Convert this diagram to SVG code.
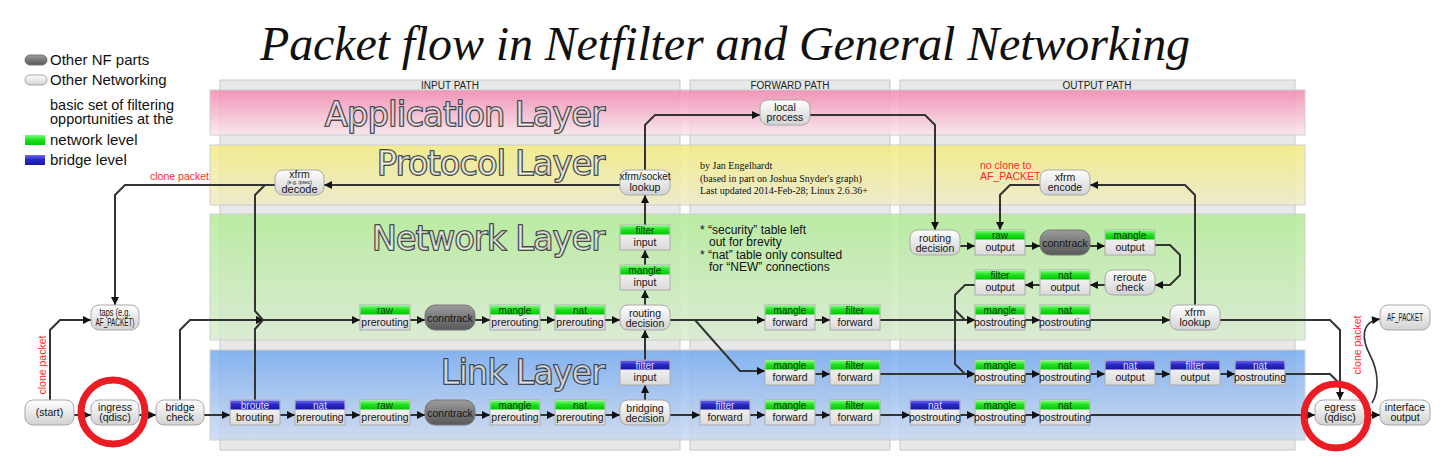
<svg xmlns="http://www.w3.org/2000/svg" width="1450" height="475" viewBox="0 0 1450 475">
<defs>
<linearGradient id="gPill" x1="0" y1="0" x2="0" y2="1"><stop offset="0" stop-color="#ffffff"/><stop offset="1" stop-color="#d2d2d2"/></linearGradient>
<linearGradient id="gDark" x1="0" y1="0" x2="0" y2="1"><stop offset="0" stop-color="#9c9c9c"/><stop offset="1" stop-color="#585858"/></linearGradient>
<linearGradient id="gBody" x1="0" y1="0" x2="0" y2="1"><stop offset="0" stop-color="#fdfdfd"/><stop offset="1" stop-color="#dadada"/></linearGradient>
<linearGradient id="gGreen" x1="0" y1="0" x2="0" y2="1"><stop offset="0" stop-color="#7cff7c"/><stop offset="0.45" stop-color="#22e022"/><stop offset="1" stop-color="#00c800"/></linearGradient>
<linearGradient id="gBlue" x1="0" y1="0" x2="0" y2="1"><stop offset="0" stop-color="#6a6aee"/><stop offset="0.45" stop-color="#2a2ac8"/><stop offset="1" stop-color="#1818a0"/></linearGradient>
<linearGradient id="bApp" x1="0" y1="0" x2="0" y2="1"><stop offset="0" stop-color="#f288b0"/><stop offset="1" stop-color="#fbe6ee"/></linearGradient>
<linearGradient id="bProt" x1="0" y1="0" x2="0" y2="1"><stop offset="0" stop-color="#f4ec80"/><stop offset="1" stop-color="#efecc8"/></linearGradient>
<linearGradient id="bNet" x1="0" y1="0" x2="0" y2="1"><stop offset="0" stop-color="#b4ec98"/><stop offset="1" stop-color="#d8ecd0"/></linearGradient>
<linearGradient id="bLink" x1="0" y1="0" x2="0" y2="1"><stop offset="0" stop-color="#74aaf2"/><stop offset="1" stop-color="#cad9f0"/></linearGradient>
<marker id="arr" viewBox="0 0 10 10" refX="10" refY="5" markerWidth="10" markerHeight="8" markerUnits="userSpaceOnUse" orient="auto"><path d="M0,0 L10,5 L0,10 z" fill="#111"/></marker>
</defs>
<style>
.col{fill:#e8e8e8;stroke:#c8c8c8;stroke-width:1}
.band{opacity:0.85;stroke:#c8c8c8;stroke-width:1}
.pill{fill:url(#gPill);stroke:#a8a8a8;stroke-width:1}
.dark{fill:url(#gDark);stroke:#777;stroke-width:1}
.body{fill:url(#gBody);stroke:#acacac;stroke-width:1}
.hg{fill:url(#gGreen)}
.hb{fill:url(#gBlue)}
.sans{font-family:"Liberation Sans",Arial,sans-serif}
.serif{font-family:"Liberation Serif","Times New Roman",serif}
.t{font-family:"Liberation Sans",Arial,sans-serif;font-size:10.5px;text-anchor:middle;fill:#151515}
.h{font-family:"Liberation Sans",Arial,sans-serif;font-size:10px;text-anchor:middle;fill:#0a3a0a}
.hw{font-family:"Liberation Sans",Arial,sans-serif;font-size:10px;text-anchor:middle;fill:#dcdcff}
.lay{font-family:"DejaVu Sans",sans-serif;font-size:33px}
.lay1{fill:none;stroke:#2a2a2a;stroke-width:1.7}
.lay2{fill:#ffffff;fill-opacity:0.6;stroke:none}
.cp{font-family:"Liberation Sans",Arial,sans-serif;font-size:10.5px;fill:#ff2a2a}
.path{font-family:"Liberation Sans",Arial,sans-serif;font-size:10px;text-anchor:middle;fill:#222}
.leg{font-family:"Liberation Sans",Arial,sans-serif;font-size:15px;fill:#111}
.conn path{fill:none;stroke:#333;stroke-width:2}
.conn .a{marker-end:url(#arr)}
.circ{fill:none;stroke:#ec1c24;stroke-width:7}
</style>
<rect width="1450" height="475" fill="#ffffff"/>

<text class="serif" x="260" y="60" style="font-style:italic;font-size:48px" textLength="930" fill="#111">Packet flow in Netfilter and General Networking</text>

<g id="legend">
<rect x="25" y="55" width="22" height="10" rx="5" class="dark"/>
<text class="leg" x="50" y="65">Other NF parts</text>
<rect x="25" y="75" width="22" height="10" rx="5" class="pill"/>
<text class="leg" x="50" y="85">Other Networking</text>
<text class="leg" x="50" y="110" style="font-size:14.5px">basic set of filtering</text>
<text class="leg" x="50" y="124" style="font-size:14.5px">opportunities at the</text>
<rect x="25" y="135" width="20" height="10" class="hg"/>
<text class="leg" x="50" y="145">network level</text>
<rect x="25" y="155" width="20" height="10" class="hb"/>
<text class="leg" x="50" y="165">bridge level</text>
</g>

<g id="columns">
<rect class="col" x="220" y="80" width="460" height="370"/>
<rect class="col" x="690" y="80" width="200" height="370"/>
<rect class="col" x="900" y="80" width="395" height="370"/>
<text class="path" x="450" y="89">INPUT PATH</text>
<text class="path" x="790" y="89">FORWARD PATH</text>
<text class="path" x="1097" y="89">OUTPUT PATH</text>
</g>

<g id="layers">
<rect class="band" x="210" y="90" width="1095" height="45" fill="url(#bApp)"/>
<rect class="band" x="210" y="145" width="1095" height="60" fill="url(#bProt)"/>
<rect class="band" x="210" y="214" width="1095" height="126" fill="url(#bNet)"/>
<rect class="band" x="210" y="350" width="1095" height="90" fill="url(#bLink)"/>
<text class="lay lay1" x="325" y="126" textLength="280">Application Layer</text>
<text class="lay lay2" x="325" y="126" textLength="280">Application Layer</text>
<text class="lay lay1" x="377" y="175" textLength="228">Protocol Layer</text>
<text class="lay lay2" x="377" y="175" textLength="228">Protocol Layer</text>
<text class="lay lay1" x="372" y="250" textLength="233">Network Layer</text>
<text class="lay lay2" x="372" y="250" textLength="233">Network Layer</text>
<text class="lay lay1" x="441" y="384" textLength="164">Link Layer</text>
<text class="lay lay2" x="441" y="384" textLength="164">Link Layer</text>
</g>

<g id="notes">
<g class="serif" style="font-size:10px" fill="#111">
<text x="700" y="169">by Jan Engelhardt</text>
<text x="700" y="182">(based in part on Joshua Snyder's graph)</text>
<text x="700" y="194">Last updated 2014-Feb-28; Linux 2.6.36+</text>
</g>
<g class="sans" style="font-size:12px" fill="#111">
<text x="700" y="234">* “security” table left</text>
<text x="709" y="246">out for brevity</text>
<text x="700" y="259">* “nat” table only consulted</text>
<text x="709" y="271">for “NEW” connections</text>
</g>
<text class="cp" x="209" y="180" text-anchor="end">clone packet</text>
<text class="cp" transform="translate(46,365) rotate(-90)" text-anchor="middle">clone packet</text>
<text class="cp" transform="translate(1361,345) rotate(-90)" text-anchor="middle">clone packet</text>
<text class="cp" x="980" y="169">no clone to</text>
<text class="cp" x="980" y="180">AF_PACKET</text>
</g>

<g class="conn" id="connectors">
<path class="a" d="M74,415 H91"/>
<path class="a" d="M139,415 H156"/>
<path class="a" d="M50,400 V330 L60,320 H91"/>
<path class="a" d="M204,415 H230"/>
<path class="a" d="M180,400 V330 L190,320 H264"/>
<path d="M275,185 H265 L255,195 V311 L263,320"/>
<path d="M255,400 V329 L263,320"/>
<path class="a" d="M262,320 H360"/>
<path class="a" d="M275,185 H125 L115,195 V305"/>
<path class="a" d="M410,320 H425"/>
<path class="a" d="M475,320 H490"/>
<path class="a" d="M540,320 H555"/>
<path class="a" d="M605,320 H620"/>
<path class="a" d="M645,305 V290"/>
<path class="a" d="M645,265 V250"/>
<path class="a" d="M645,225 V195"/>
<path class="a" d="M645,170 V125 L655,115 H760"/>
<path class="a" d="M620,185 H324"/>
<path class="a" d="M810,115 H925 L935,125 V230"/>
<path class="a" d="M960,246 H975"/>
<path class="a" d="M1025,246 H1040"/>
<path class="a" d="M1090,246 H1105"/>
<path class="a" d="M1155,245 H1170 L1180,255 V275 L1170,285 H1155"/>
<path class="a" d="M1105,285 H1090"/>
<path class="a" d="M1040,285 H1025"/>
<path class="a" d="M975,285 H965 L955,295 V310 L965,320 H975"/>
<path class="a" d="M955,305 V364 L965,374 H975"/>
<path class="a" d="M1025,320 H1040"/>
<path class="a" d="M1090,320 H1170"/>
<path class="a" d="M1220,320 H1330 L1340,330 V400"/>
<path class="a" d="M1195,305 V195 L1185,185 H1090"/>
<path class="a" d="M1040,185 H1010 L1000,195 V230"/>
<path class="a" d="M670,320 H765"/>
<path class="a" d="M695,320 L740,371 H765"/>
<path class="a" d="M815,320 H830"/>
<path class="a" d="M880,320 H975"/>
<path class="a" d="M815,374 H830"/>
<path class="a" d="M880,374 H975"/>
<path class="a" d="M1025,374 H1040"/>
<path class="a" d="M1090,374 H1105"/>
<path class="a" d="M1155,374 H1170"/>
<path class="a" d="M1220,374 H1235"/>
<path d="M1285,374 H1330 L1340,384"/>
<path class="a" d="M280,415 H295"/>
<path class="a" d="M345,415 H360"/>
<path class="a" d="M410,415 H425"/>
<path class="a" d="M475,415 H490"/>
<path class="a" d="M540,415 H555"/>
<path class="a" d="M605,415 H620"/>
<path class="a" d="M645,400 V385"/>
<path class="a" d="M645,360 V330"/>
<path class="a" d="M670,415 H700"/>
<path class="a" d="M750,415 H765"/>
<path class="a" d="M815,415 H830"/>
<path class="a" d="M880,415 H910"/>
<path class="a" d="M960,415 H975"/>
<path class="a" d="M1025,415 H1040"/>
<path class="a" d="M1090,415 H1315"/>
<path class="a" d="M1365,415 H1380"/>
<path class="a" d="M1372,403 C1380,390 1378,370 1370,355 C1362,340 1360,322 1380,319" style="stroke-width:1.6"/>
</g>

<g id="n-start"><rect class="pill" x="25" y="400" width="49" height="25" rx="8"/><text class="t" x="49.5" y="416">(start)</text></g>
<g id="n-ingress"><rect class="pill" x="91" y="400" width="48" height="25" rx="8"/><text class="t" x="115" y="411">ingress</text><text class="t" x="115" y="421">(qdisc)</text></g>
<g id="n-bridgecheck"><rect class="pill" x="156" y="400" width="48" height="25" rx="8"/><text class="t" x="180" y="411">bridge</text><text class="t" x="180" y="421">check</text></g>
<g id="n-taps"><rect class="pill" x="91" y="305" width="48" height="25" rx="8"/><text class="t" x="115" y="316" style="font-size:10px" textLength="31" lengthAdjust="spacingAndGlyphs">taps (e.g.</text><text class="t" x="115" y="326" style="font-size:10px" textLength="39" lengthAdjust="spacingAndGlyphs">AF_PACKET)</text></g>
<g id="n-xfrmdecode"><rect class="pill" x="275" y="170" width="49" height="25" rx="8"/><text class="t" x="299.5" y="178">xfrm</text><text class="t" x="299.5" y="184" style="font-size:5px">(e.g. ipsec)</text><text class="t" x="299.5" y="193" style="font-size:11px">decode</text></g>
<g id="n-xfrmsocket"><rect class="pill" x="620" y="170" width="50" height="25" rx="8"/><text class="t" x="645" y="180" style="font-size:10px">xfrm/socket</text><text class="t" x="645" y="190.5">lookup</text></g>
<g id="n-localproc"><rect class="pill" x="760" y="100" width="50" height="25" rx="8"/><text class="t" x="785" y="110.5">local</text><text class="t" x="785" y="121">process</text></g>
<g id="n-routein"><rect class="pill" x="620" y="305" width="50" height="25" rx="8"/><text class="t" x="645" y="316.5">routing</text><text class="t" x="645" y="326.5">decision</text></g>
<g id="n-bridging"><rect class="pill" x="620" y="400" width="50" height="25" rx="8"/><text class="t" x="645" y="411.5">bridging</text><text class="t" x="645" y="421.5">decision</text></g>
<g id="n-routeout"><rect class="pill" x="910" y="230" width="50" height="25" rx="8"/><text class="t" x="935" y="241.5">routing</text><text class="t" x="935" y="251.5">decision</text></g>
<g id="n-xfrmencode"><rect class="pill" x="1040" y="170" width="50" height="25" rx="8"/><text class="t" x="1065" y="181">xfrm</text><text class="t" x="1065" y="191">encode</text></g>
<g id="n-reroute"><rect class="pill" x="1105" y="270" width="50" height="25" rx="8"/><text class="t" x="1130" y="281">reroute</text><text class="t" x="1130" y="291">check</text></g>
<g id="n-xfrmlookup"><rect class="pill" x="1170" y="305" width="50" height="25" rx="8"/><text class="t" x="1195" y="316">xfrm</text><text class="t" x="1195" y="326">lookup</text></g>
<g id="n-egress"><rect class="pill" x="1315" y="400" width="50" height="25" rx="8"/><text class="t" x="1340" y="411">egress</text><text class="t" x="1340" y="421">(qdisc)</text></g>
<g id="n-ifout"><rect class="pill" x="1380" y="400" width="50" height="25" rx="8"/><text class="t" x="1405" y="411">interface</text><text class="t" x="1405" y="421">output</text></g>
<g id="n-afpacket"><rect class="pill" x="1380" y="305" width="50" height="25" rx="8"/><text class="t" x="1405" y="321" style="font-size:10px" textLength="36" lengthAdjust="spacingAndGlyphs">AF_PACKET</text></g>

<g id="n-ct-in-net"><rect class="dark" x="425" y="305" width="50" height="25" rx="10"/><text class="t" x="450" y="321.5">conntrack</text></g>
<g id="n-ct-in-link"><rect class="dark" x="425" y="400" width="50" height="25" rx="10"/><text class="t" x="450" y="416.5">conntrack</text></g>
<g id="n-ct-out"><rect class="dark" x="1040" y="230" width="50" height="25" rx="10"/><text class="t" x="1065" y="246.5">conntrack</text></g>

<g id="n-raw-pre-net"><rect class="body" x="360" y="305" width="50" height="25"/><rect class="hg" x="360.5" y="305.5" width="49" height="9"/><text class="h" x="385" y="313.5">raw</text><text class="t" x="385" y="326">prerouting</text></g>
<g id="n-mangle-pre-net"><rect class="body" x="490" y="305" width="50" height="25"/><rect class="hg" x="490.5" y="305.5" width="49" height="9"/><text class="h" x="515" y="313.5">mangle</text><text class="t" x="515" y="326">prerouting</text></g>
<g id="n-nat-pre-net"><rect class="body" x="555" y="305" width="50" height="25"/><rect class="hg" x="555.5" y="305.5" width="49" height="9"/><text class="h" x="580" y="313.5">nat</text><text class="t" x="580" y="326">prerouting</text></g>
<g id="n-mangle-in"><rect class="body" x="620" y="265" width="50" height="25"/><rect class="hg" x="620.5" y="265.5" width="49" height="9"/><text class="h" x="645" y="273.5">mangle</text><text class="t" x="645" y="286">input</text></g>
<g id="n-filter-in"><rect class="body" x="620" y="225" width="50" height="25"/><rect class="hg" x="620.5" y="225.5" width="49" height="9"/><text class="h" x="645" y="233.5">filter</text><text class="t" x="645" y="246">input</text></g>

<g id="n-broute"><rect class="body" x="230" y="400" width="50" height="25"/><rect class="hb" x="230.5" y="400.5" width="49" height="9"/><text class="hw" x="255" y="408.5">broute</text><text class="t" x="255" y="421">brouting</text></g>
<g id="n-nat-pre-br"><rect class="body" x="295" y="400" width="50" height="25"/><rect class="hb" x="295.5" y="400.5" width="49" height="9"/><text class="hw" x="320" y="408.5">nat</text><text class="t" x="320" y="421">prerouting</text></g>
<g id="n-raw-pre-link"><rect class="body" x="360" y="400" width="50" height="25"/><rect class="hg" x="360.5" y="400.5" width="49" height="9"/><text class="h" x="385" y="408.5">raw</text><text class="t" x="385" y="421">prerouting</text></g>
<g id="n-mangle-pre-link"><rect class="body" x="490" y="400" width="50" height="25"/><rect class="hg" x="490.5" y="400.5" width="49" height="9"/><text class="h" x="515" y="408.5">mangle</text><text class="t" x="515" y="421">prerouting</text></g>
<g id="n-nat-pre-link"><rect class="body" x="555" y="400" width="50" height="25"/><rect class="hg" x="555.5" y="400.5" width="49" height="9"/><text class="h" x="580" y="408.5">nat</text><text class="t" x="580" y="421">prerouting</text></g>
<g id="n-filter-in-br"><rect class="body" x="620" y="360" width="50" height="25"/><rect class="hb" x="620.5" y="360.5" width="49" height="9"/><text class="hw" x="645" y="368.5">filter</text><text class="t" x="645" y="381">input</text></g>

<g id="n-mangle-fwd-net"><rect class="body" x="765" y="305" width="50" height="25"/><rect class="hg" x="765.5" y="305.5" width="49" height="9"/><text class="h" x="790" y="313.5">mangle</text><text class="t" x="790" y="326">forward</text></g>
<g id="n-filter-fwd-net"><rect class="body" x="830" y="305" width="50" height="25"/><rect class="hg" x="830.5" y="305.5" width="49" height="9"/><text class="h" x="855" y="313.5">filter</text><text class="t" x="855" y="326">forward</text></g>
<g id="n-mangle-fwd-link"><rect class="body" x="765" y="360" width="50" height="25"/><rect class="hg" x="765.5" y="360.5" width="49" height="9"/><text class="h" x="790" y="368.5">mangle</text><text class="t" x="790" y="381">forward</text></g>
<g id="n-filter-fwd-link"><rect class="body" x="830" y="360" width="50" height="25"/><rect class="hg" x="830.5" y="360.5" width="49" height="9"/><text class="h" x="855" y="368.5">filter</text><text class="t" x="855" y="381">forward</text></g>
<g id="n-filter-fwd-br"><rect class="body" x="700" y="400" width="50" height="25"/><rect class="hb" x="700.5" y="400.5" width="49" height="9"/><text class="hw" x="725" y="408.5">filter</text><text class="t" x="725" y="421">forward</text></g>
<g id="n-mangle-fwd-br"><rect class="body" x="765" y="400" width="50" height="25"/><rect class="hg" x="765.5" y="400.5" width="49" height="9"/><text class="h" x="790" y="408.5">mangle</text><text class="t" x="790" y="421">forward</text></g>
<g id="n-filter-fwd-br2"><rect class="body" x="830" y="400" width="50" height="25"/><rect class="hg" x="830.5" y="400.5" width="49" height="9"/><text class="h" x="855" y="408.5">filter</text><text class="t" x="855" y="421">forward</text></g>

<g id="n-raw-out"><rect class="body" x="975" y="230" width="50" height="25"/><rect class="hg" x="975.5" y="230.5" width="49" height="9"/><text class="h" x="1000" y="238.5">raw</text><text class="t" x="1000" y="251">output</text></g>
<g id="n-mangle-out"><rect class="body" x="1105" y="230" width="50" height="25"/><rect class="hg" x="1105.5" y="230.5" width="49" height="9"/><text class="h" x="1130" y="238.5">mangle</text><text class="t" x="1130" y="251">output</text></g>
<g id="n-filter-out"><rect class="body" x="975" y="270" width="50" height="25"/><rect class="hg" x="975.5" y="270.5" width="49" height="9"/><text class="h" x="1000" y="278.5">filter</text><text class="t" x="1000" y="291">output</text></g>
<g id="n-nat-out"><rect class="body" x="1040" y="270" width="50" height="25"/><rect class="hg" x="1040.5" y="270.5" width="49" height="9"/><text class="h" x="1065" y="278.5">nat</text><text class="t" x="1065" y="291">output</text></g>
<g id="n-mangle-post-net"><rect class="body" x="975" y="305" width="50" height="25"/><rect class="hg" x="975.5" y="305.5" width="49" height="9"/><text class="h" x="1000" y="313.5">mangle</text><text class="t" x="1000" y="326">postrouting</text></g>
<g id="n-nat-post-net"><rect class="body" x="1040" y="305" width="50" height="25"/><rect class="hg" x="1040.5" y="305.5" width="49" height="9"/><text class="h" x="1065" y="313.5">nat</text><text class="t" x="1065" y="326">postrouting</text></g>

<g id="n-mangle-post-link"><rect class="body" x="975" y="360" width="50" height="25"/><rect class="hg" x="975.5" y="360.5" width="49" height="9"/><text class="h" x="1000" y="368.5">mangle</text><text class="t" x="1000" y="381">postrouting</text></g>
<g id="n-nat-post-link"><rect class="body" x="1040" y="360" width="50" height="25"/><rect class="hg" x="1040.5" y="360.5" width="49" height="9"/><text class="h" x="1065" y="368.5">nat</text><text class="t" x="1065" y="381">postrouting</text></g>
<g id="n-nat-out-br"><rect class="body" x="1105" y="360" width="50" height="25"/><rect class="hb" x="1105.5" y="360.5" width="49" height="9"/><text class="hw" x="1130" y="368.5">nat</text><text class="t" x="1130" y="381">output</text></g>
<g id="n-filter-out-br"><rect class="body" x="1170" y="360" width="50" height="25"/><rect class="hb" x="1170.5" y="360.5" width="49" height="9"/><text class="hw" x="1195" y="368.5">filter</text><text class="t" x="1195" y="381">output</text></g>
<g id="n-nat-post-br"><rect class="body" x="1235" y="360" width="50" height="25"/><rect class="hb" x="1235.5" y="360.5" width="49" height="9"/><text class="hw" x="1260" y="368.5">nat</text><text class="t" x="1260" y="381">postrouting</text></g>

<g id="n-nat-post-br2"><rect class="body" x="910" y="400" width="50" height="25"/><rect class="hb" x="910.5" y="400.5" width="49" height="9"/><text class="hw" x="935" y="408.5">nat</text><text class="t" x="935" y="421">postrouting</text></g>
<g id="n-mangle-post-br"><rect class="body" x="975" y="400" width="50" height="25"/><rect class="hg" x="975.5" y="400.5" width="49" height="9"/><text class="h" x="1000" y="408.5">mangle</text><text class="t" x="1000" y="421">postrouting</text></g>
<g id="n-nat-post-br3"><rect class="body" x="1040" y="400" width="50" height="25"/><rect class="hg" x="1040.5" y="400.5" width="49" height="9"/><text class="h" x="1065" y="408.5">nat</text><text class="t" x="1065" y="421">postrouting</text></g>

<g id="highlights">
<circle class="circ" cx="113" cy="412" r="32"/>
<circle class="circ" cx="1336" cy="416" r="32"/>
</g>
</svg>
